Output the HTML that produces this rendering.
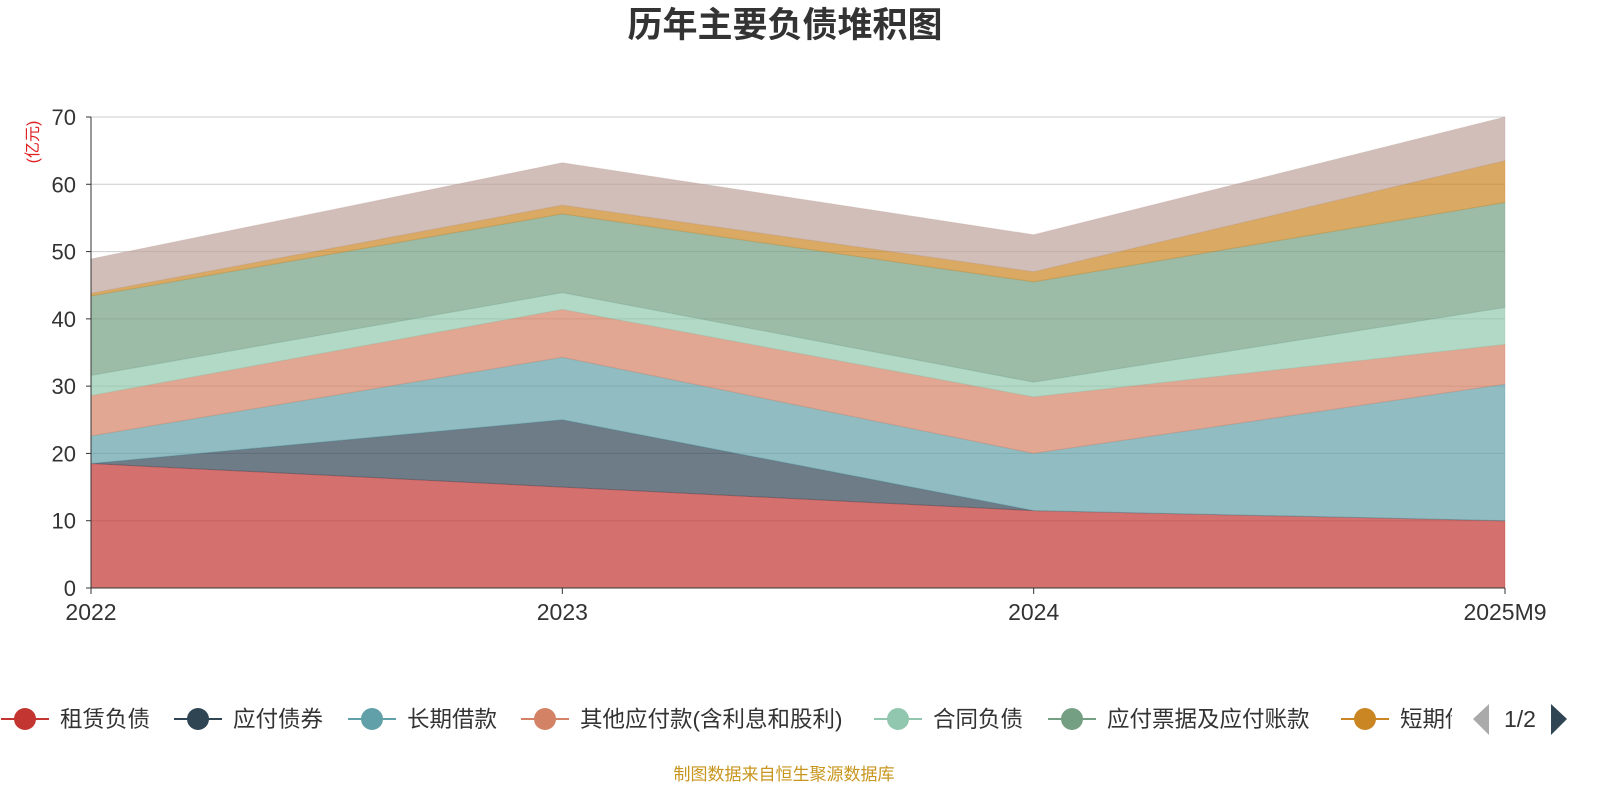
<!DOCTYPE html>
<html><head><meta charset="utf-8"><style>
body{margin:0;background:#fff;width:1600px;height:800px;overflow:hidden;font-family:"Liberation Sans","Noto Sans CJK SC",sans-serif}
</style></head><body>
<svg id="chart" width="1600" height="800" xmlns="http://www.w3.org/2000/svg" font-family="Liberation Sans, Noto Sans CJK SC, sans-serif">
<text x="785" y="37" text-anchor="middle" font-size="35" font-weight="bold" fill="#333">历年主要负债堆积图</text>
<text transform="translate(38,142) rotate(-90)" text-anchor="middle" font-size="16" fill="#e02020">(亿元)</text>
<g id="grid"></g><g id="areas"></g><g id="axes"></g><g id="legend"></g>
<text x="784" y="780" text-anchor="middle" font-size="17" fill="#c8961e">制图数据来自恒生聚源数据库</text>
</svg>
<script>
const categories=["2022","2023","2024","2025M9"];
const seriesNames=["租赁负债","应付债券","长期借款","其他应付款(含利息和股利)","合同负债","应付票据及应付账款","短期借款","其他"];
const leaseLiab=[18.5,15,11.5,10];
const bondsPayable=[0,10,0,0];
const longLoans=[4.1,9.3,8.5,20.3];
const otherPayables=[6,7.1,8.4,5.9];
const contractLiab=[3,2.5,2.2,5.5];
const notesPayable=[11.8,11.7,14.9,15.6];
const shortLoans=[0.4,1.3,1.5,6.2];
const others=[5.1,6.3,5.5,6.5];
const yTicks=[0,10,20,30,40,50,60,70];
const series=[leaseLiab,bondsPayable,longLoans,otherPayables,contractLiab,notesPayable,shortLoans,others];
const colors=["#c23531","#2f4554","#61a0a8","#d48265","#91c7ae","#749f83","#ca8622","#bda29a"];
const NS="http://www.w3.org/2000/svg";
const x0=91,x1=1505,yb=588,yt=117,ymax=70;
const xs=i=>x0+(x1-x0)*i/(categories.length-1);
const ys=v=>yb-(yb-yt)*v/ymax;
function mk(t,a,p){const e=document.createElementNS(NS,t);for(const k in a)e.setAttribute(k,a[k]);p.appendChild(e);return e;}
const grid=document.getElementById('grid'),areas=document.getElementById('areas'),axes=document.getElementById('axes'),legend=document.getElementById('legend');
yTicks.forEach(v=>{
 const l=mk('line',{x1:x0,x2:x1,y1:ys(v),y2:ys(v),stroke:v?'#ccc':'#333','stroke-width':1},grid);
 
 
 const t=mk('text',{x:76,y:ys(v)+8,'text-anchor':'end','font-size':22,fill:'#333'},axes);t.textContent=v;
 
 
 mk('line',{x1:x0-5,x2:x0,y1:ys(v),y2:ys(v),stroke:'#333'},axes);
});
let cum=categories.map(()=>0);
series.forEach((s,si)=>{
 const lo=cum.slice();cum=cum.map((c,i)=>c+s[i]);
 let d='';cum.forEach((c,i)=>d+=(i?'L':'M')+xs(i)+','+ys(c));
 for(let i=lo.length-1;i>=0;i--)d+='L'+xs(i)+','+ys(lo[i]);
 const p=mk('path',{d:d+'Z',fill:colors[si],'fill-opacity':0.7,stroke:colors[si],'stroke-opacity':0.3,'stroke-width':1},areas);
 
 
});
mk('line',{x1:x0,x2:x0,y1:yt,y2:yb,stroke:'#333'},axes);
mk('line',{x1:x0,x2:x1,y1:yb,y2:yb,stroke:'#333'},axes);
categories.forEach((c,i)=>{
 mk('line',{x1:xs(i),x2:xs(i),y1:yb,y2:yb+6,stroke:'#333'},axes);
 const t=mk('text',{x:xs(i),y:620,'text-anchor':'middle','font-size':23,fill:'#333'},axes);t.textContent=c;
 
 
});
const cp=mk('clipPath',{id:'cl'},legend);
mk('rect',{x:0,y:0,width:1452,height:800},cp);
const lx=[25,198,372,545,898,1072,1365];
lx.forEach((x,i)=>{
 const g=mk('g',{},legend);
 
 
 mk('line',{x1:x-24,x2:x+24,y1:719,y2:719,stroke:colors[i],'stroke-width':2},g);
 mk('circle',{cx:x,cy:719,r:11,fill:colors[i]},g);
 const t=mk('text',{x:x+35,y:727,'font-size':22.5,fill:'#333','clip-path':'url(#cl)'},g);t.textContent=seriesNames[i];
});
const pl=mk('path',{d:'M1489,704 L1473,719 L1489,735 Z',fill:'#aaa'},legend);


const pt=mk('text',{x:1520,y:727,'text-anchor':'middle','font-size':23,fill:'#333'},legend);pt.textContent='1/2';


const pn=mk('path',{d:'M1551,704 L1567,719 L1551,735 Z',fill:'#2f4554'},legend);


</script>
</body></html>
